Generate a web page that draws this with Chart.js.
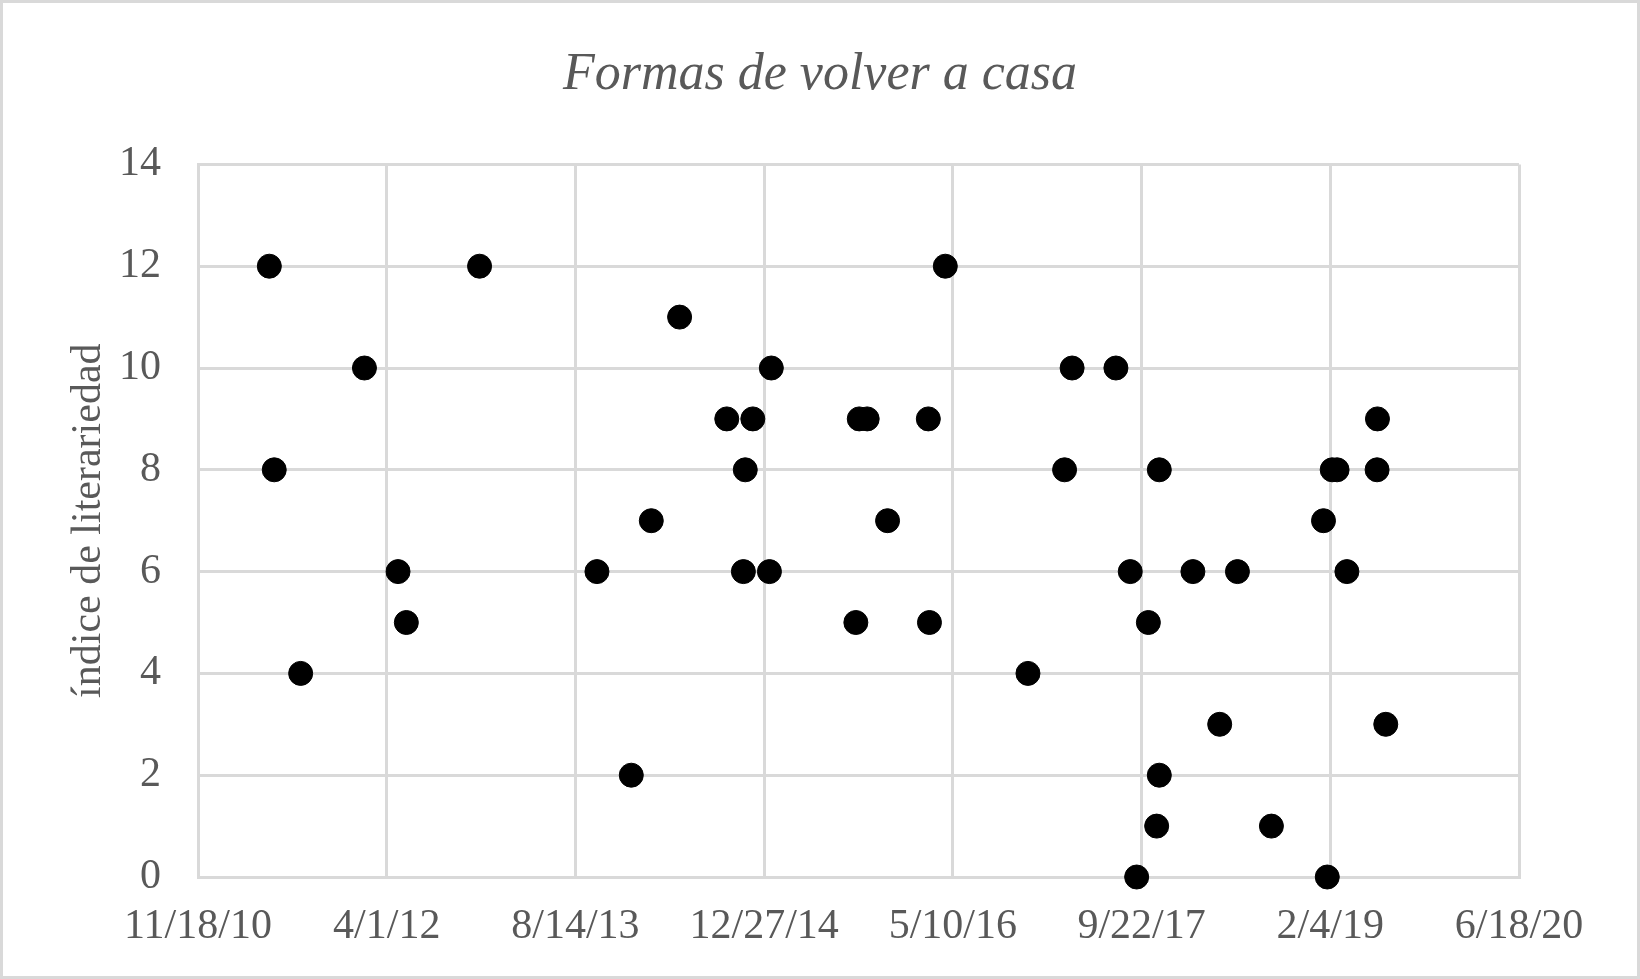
<!DOCTYPE html>
<html>
<head>
<meta charset="utf-8">
<title>Formas de volver a casa</title>
<script src="https://cdn.jsdelivr.net/npm/chart.js@4.4.1/dist/chart.umd.min.js"></script>
<style>
  body { margin: 0; background: #fff; }
  canvas { display: block; }
</style>
</head>
<body>
<canvas id="grafico" width="1640" height="979"></canvas>
<script>
// Fechas como número de serie de Excel (días desde 1900)
const fechas = [
    40689, 40702, 40772, 40941, 41030, 41052, 41246, 41557, 41648, 41701,
    41776, 41901, 41945, 41950, 41970, 42014, 42019, 42243, 42252, 42273,
    42327, 42435, 42438, 42480, 42699, 42796, 42816, 42932, 42970, 42987,
    43018, 43040, 43047, 43047, 43136, 43207, 43254, 43344, 43482, 43492,
    43505, 43518, 43544, 43624, 43625, 43647
];
const indices = [
    12, 8, 4, 10, 6, 5, 12, 6, 2, 7,
    11, 9, 6, 8, 9, 6, 10, 5, 9, 9,
    7, 9, 5, 12, 4, 8, 10, 10, 6, 0,
    5, 1, 2, 8, 6, 3, 6, 1, 7, 0,
    8, 8, 6, 8, 9, 3
];
const etiquetasX = ['11/18/10', '4/1/12', '8/14/13', '12/27/14', '5/10/16', '9/22/17', '2/4/19', '6/18/20'];
const etiquetasY = [0, 2, 4, 6, 8, 10, 12, 14];

const puntos = fechas.map((f, i) => ({ x: f, y: indices[i] }));

const gris = '#595959';
const rejilla = '#d9d9d9';
const fuente = "'Liberation Serif', 'Times New Roman', serif";

// Fondo blanco y marco exterior
const marco = {
    id: 'marco',
    beforeDraw(chart) {
        const ctx = chart.ctx;
        ctx.save();
        ctx.fillStyle = '#ffffff';
        ctx.fillRect(0, 0, chart.width, chart.height);
        ctx.restore();
    },
    afterDraw(chart) {
        const ctx = chart.ctx;
        ctx.save();
        ctx.strokeStyle = rejilla;
        ctx.lineWidth = 3;
        ctx.strokeRect(1.5, 1.5, chart.width - 3, chart.height - 3);
        ctx.restore();
    }
};

new Chart(document.getElementById('grafico'), {
    type: 'scatter',
    data: {
        datasets: [{
            label: 'índice de literariedad',
            data: puntos,
            backgroundColor: '#000000',
            borderColor: '#000000',
            borderWidth: 1,
            pointRadius: 12,
            pointHoverRadius: 12,
            clip: false
        }]
    },
    options: {
        responsive: false,
        animation: false,
        layout: { padding: 0 },
        plugins: {
            legend: { display: false },
            tooltip: { enabled: false },
            title: {
                display: true,
                text: 'Formas de volver a casa',
                color: gris,
                font: { family: fuente, size: 52, style: 'italic', weight: 'normal' },
                padding: { top: 44, bottom: 58 }
            }
        },
        scales: {
            x: {
                type: 'linear',
                min: 40500,
                max: 44000,
                afterFit: (scale) => { scale.height = 102; },
                afterBuildTicks: (scale) => {
                    scale.ticks = etiquetasX.map((t, i) => ({ value: 40500 + i * 500 }));
                },
                ticks: {
                    color: gris,
                    padding: 25,
                    maxRotation: 0,
                    autoSkip: false,
                    font: { family: fuente, size: 42 },
                    callback: (v, i) => etiquetasX[i]
                },
                grid: { color: rejilla, lineWidth: 3, drawTicks: false },
                border: { color: rejilla, width: 3 }
            },
            y: {
                min: 0,
                max: 14,
                afterFit: (scale) => { scale.width = 198; },
                afterBuildTicks: (scale) => {
                    scale.ticks = etiquetasY.map(v => ({ value: v }));
                },
                ticks: {
                    color: gris,
                    padding: 37,
                    font: { family: fuente, size: 42 }
                },
                title: {
                    display: true,
                    text: 'índice de literariedad',
                    color: gris,
                    font: { family: fuente, size: 42 },
                    padding: { top: 64, bottom: 0 }
                },
                grid: { color: rejilla, lineWidth: 3, drawTicks: false },
                border: { color: rejilla, width: 3 }
            },
            // margen derecho vacío
            margen: {
                type: 'linear',
                position: 'right',
                afterFit: (scale) => { scale.width = 121; },
                ticks: { display: false },
                grid: { display: false, drawTicks: false },
                border: { display: false }
            }
        }
    },
    plugins: [marco]
});
</script>
</body>
</html>
